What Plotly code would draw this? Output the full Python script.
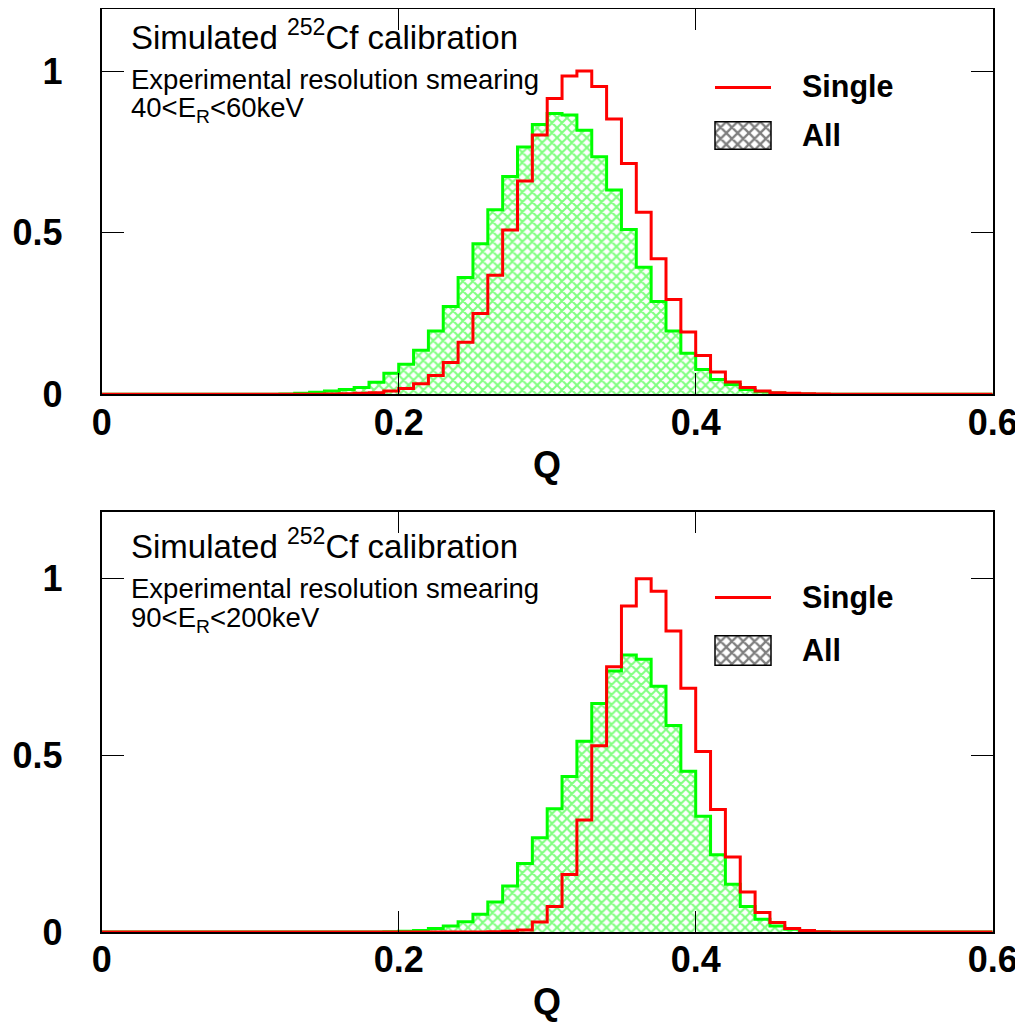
import plotly.graph_objects as go

# ---------------- data ----------------
bin_width = 0.01
n_bins = 60
q_edges = [round(i * bin_width, 2) for i in range(n_bins + 1)]

# top panel: 40 < E_R < 60 keV
top_all = [0, 0, 0, 0, 0, 0, 0, 0, 0, 0,
           0, 0, 0.001, 0.003, 0.006, 0.010, 0.015, 0.021, 0.037, 0.065,
           0.093, 0.136, 0.196, 0.272, 0.361, 0.466, 0.571, 0.674, 0.765, 0.835,
           0.869, 0.864, 0.817, 0.735, 0.632, 0.510, 0.393, 0.287, 0.196, 0.127,
           0.077, 0.046, 0.030, 0.015, 0.008, 0.004, 0.002, 0.001, 0, 0,
           0, 0, 0, 0, 0, 0, 0, 0, 0, 0]
top_single = [0, 0, 0, 0, 0, 0, 0, 0, 0, 0,
              0, 0, 0, 0, 0, 0.001, 0.002, 0.003, 0.005, 0.010,
              0.018, 0.033, 0.058, 0.098, 0.161, 0.250, 0.368, 0.508, 0.660, 0.802,
              0.915, 0.985, 1.000, 0.952, 0.852, 0.714, 0.563, 0.419, 0.293, 0.193,
              0.120, 0.069, 0.038, 0.021, 0.010, 0.005, 0.003, 0.002, 0.001, 0,
              0, 0, 0, 0, 0, 0, 0, 0, 0, 0]

# bottom panel: 90 < E_R < 200 keV
bot_all = [0, 0, 0, 0, 0, 0, 0, 0, 0, 0,
           0, 0, 0, 0, 0, 0, 0, 0, 0, 0.001,
           0.002, 0.004, 0.010, 0.017, 0.029, 0.050, 0.085, 0.130, 0.194, 0.267,
           0.349, 0.440, 0.540, 0.647, 0.739, 0.784, 0.772, 0.696, 0.585, 0.455,
           0.328, 0.219, 0.135, 0.072, 0.036, 0.017, 0.008, 0.003, 0.001, 0,
           0, 0, 0, 0, 0, 0, 0, 0, 0, 0]
bot_single = [0, 0, 0, 0, 0, 0, 0, 0, 0, 0,
              0, 0, 0, 0, 0, 0, 0, 0, 0, 0,
              0, 0, 0, 0, 0, 0, 0.001, 0.002, 0.006, 0.028,
              0.072, 0.163, 0.317, 0.527, 0.751, 0.923, 1.000, 0.965, 0.852, 0.690,
              0.511, 0.347, 0.212, 0.113, 0.055, 0.027, 0.010, 0.004, 0.001, 0,
              0, 0, 0, 0, 0, 0, 0, 0, 0, 0]

x_ticks = [0, 0.2, 0.4, 0.6]
x_ticklabels = ["0", "0.2", "0.4", "0.6"]
y_ticks = [0, 0.5, 1]
y_ticklabels = ["0", "0.5", "1"]
panel_ranges = ["40&lt;E<sub>R</sub>&lt;60keV", "90&lt;E<sub>R</sub>&lt;200keV"]
series_names = ["Single", "All"]

# ---------------- layout helpers ----------------
OFF = 8                      # page body margin
W, H = 1023 - OFF, 1027 - OFF
FONT = "Liberation Sans, Arial, Helvetica, sans-serif"


def px(x):
    return min(1.0, max(0.0, (x - OFF) / W))


def py(y):
    return min(1.0, max(0.0, 1 - (y - OFF) / H))


panels = [
    dict(all=top_all, single=top_single, xa="x", ya="y",
         top=9.0, bottom=394.3, ytop=1.192, dy=0, label=panel_ranges[0]),
    dict(all=bot_all, single=bot_single, xa="x2", ya="y2",
         top=511.7, bottom=932.0, ytop=1.19, dy=509, label=panel_ranges[1]),
]
x_left, x_right = 101.7, 992.7

fig = go.Figure()

for p in panels:
    ya = list(p["all"]) + [p["all"][-1]]
    ys = list(p["single"]) + [p["single"][-1]]
    fig.add_trace(go.Scatter(
        x=q_edges, y=ya, xaxis=p["xa"], yaxis=p["ya"], mode="lines",
        line=dict(shape="hv", color="#00ff00", width=3),
        fill="tozeroy", fillcolor="white",
        fillpattern=dict(shape="x", fgcolor="#00ff00", bgcolor="white",
                         size=7, solidity=0.5),
        name=series_names[1], showlegend=False, hoverinfo="skip"))
    fig.add_trace(go.Scatter(
        x=q_edges, y=ys, xaxis=p["xa"], yaxis=p["ya"], mode="lines",
        line=dict(shape="hv", color="#ff0000", width=3),
        name=series_names[0], showlegend=False, hoverinfo="skip"))

axis_common = dict(showgrid=False, zeroline=False, showline=True, linewidth=2,
                   linecolor="black", mirror="allticks", ticks="inside",
                   tickcolor="black", tickwidth=1, fixedrange=True, automargin=False,
                   ticklabeloverflow="allow",
                   tickfont=dict(family=FONT, size=36, color="black", weight="bold"))

layout = dict(width=W, height=H, margin=dict(l=0, r=0, t=0, b=0, pad=0, autoexpand=False),
              paper_bgcolor="white", plot_bgcolor="white", showlegend=False)

for i, p in enumerate(panels):
    sfx = "" if i == 0 else str(i + 1)
    layout["xaxis" + sfx] = dict(axis_common, domain=[px(x_left), px(x_right)],
                                 range=[0, 0.6], anchor="y" + sfx,
                                 tickvals=x_ticks, ticktext=x_ticklabels,
                                 ticklen=21, ticklabelstandoff=-5)
    layout["yaxis" + sfx] = dict(axis_common, domain=[py(p["bottom"]), py(p["top"])],
                                 range=[0, p["ytop"]], anchor="x" + sfx,
                                 tickvals=y_ticks, ticktext=y_ticklabels,
                                 ticklen=22, ticklabelstandoff=30)

annotations = []
shapes = []
for i, p in enumerate(panels):
    d = p["dy"]
    annotations += [
        dict(text="Simulated <sup>252</sup>Cf calibration", x=px(129), y=py(35 + d),
             xref="paper", yref="paper", xanchor="left", yanchor="middle",
             showarrow=False, font=dict(family=FONT, size=33, color="black")),
        dict(text="Experimental resolution smearing", x=px(129), y=py(79 + d),
             xref="paper", yref="paper", xanchor="left", yanchor="middle",
             showarrow=False, font=dict(family=FONT, size=27.5, color="black")),
        dict(text=p["label"], x=px(129), y=py(110 + d),
             xref="paper", yref="paper", xanchor="left", yanchor="middle",
             showarrow=False, font=dict(family=FONT, size=27.5, color="black")),
        dict(text=series_names[0], x=px(800), y=py(86 + d + (2 if i else 0)),
             xref="paper", yref="paper", xanchor="left", yanchor="middle",
             showarrow=False, font=dict(family=FONT, size=30.5, color="black", weight="bold")),
        dict(text=series_names[1], x=px(800), y=py(134.5 + d + (6 if i else 0)),
             xref="paper", yref="paper", xanchor="left", yanchor="middle",
             showarrow=False, font=dict(family=FONT, size=30.5, color="black", weight="bold")),
        dict(text="Q", x=(px(x_left) + px(x_right)) / 2, y=py(464 + (p["bottom"] - 394.3)),
             xref="paper", yref="paper", xanchor="center", yanchor="middle",
             showarrow=False, font=dict(family=FONT, size=36, color="black", weight="bold")),
    ]
    # legend red line
    ly = 87.5 + d + (1 if i else 0)
    shapes.append(dict(type="line", xref="paper", yref="paper",
                       x0=px(715), x1=px(771), y0=py(ly), y1=py(ly),
                       line=dict(color="#ff0000", width=3)))
    # legend hatched box as an inset axis
    k = 3 + i
    box_top = 121.7 + d + (5 if i else 0)
    box_bot = 149.3 + d + (7 if i else 0)
    layout["xaxis%d" % k] = dict(domain=[px(715), px(771)], range=[0, 1], visible=False,
                                 anchor="y%d" % k, fixedrange=True, automargin=False)
    layout["yaxis%d" % k] = dict(domain=[py(box_bot), py(box_top)], range=[0, 1], visible=False,
                                 anchor="x%d" % k, fixedrange=True, automargin=False)
    fig.add_trace(go.Bar(x=[0.5], y=[1], width=[1], xaxis="x%d" % k, yaxis="y%d" % k,
                         marker=dict(color="white", line=dict(width=0),
                                     pattern=dict(shape="x", fgcolor="black", bgcolor="white",
                                                  size=8, solidity=0.5)),
                         showlegend=False, hoverinfo="skip"))
    shapes.append(dict(type="rect", xref="x%d domain" % k, yref="y%d domain" % k,
                       x0=0, x1=1, y0=0, y1=1, line=dict(color="black", width=1.5)))

layout["annotations"] = annotations
layout["shapes"] = shapes
fig.update_layout(**layout)

fig.write_html("out.html")
